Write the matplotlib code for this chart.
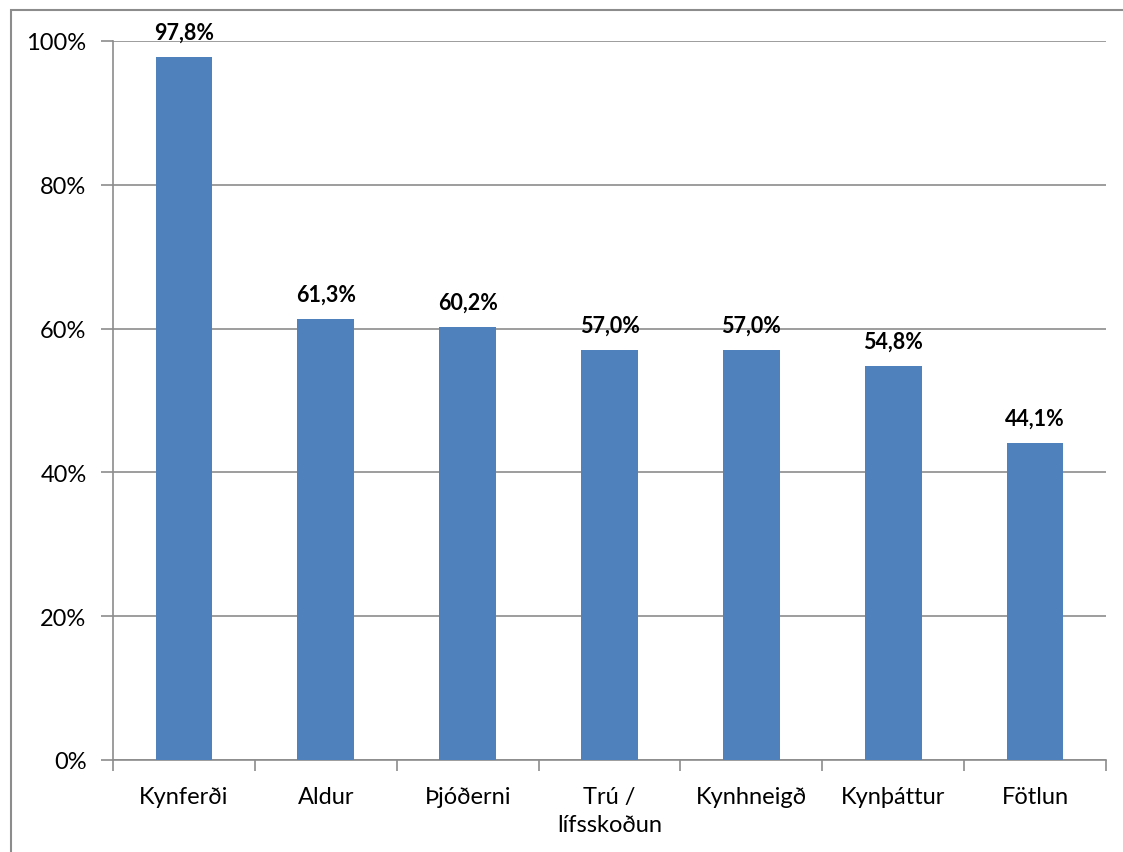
import matplotlib.pyplot as plt
from matplotlib.patches import Rectangle
import numpy as np

plt.rcParams['font.family'] = ['Lato', 'DejaVu Sans']

categories = ['Kynferði', 'Aldur', 'Þjóðerni', 'Trú /\nlífsskoðun', 'Kynhneigð', 'Kynþáttur', 'Fötlun']
values = [97.8, 61.3, 60.2, 57.0, 57.0, 54.8, 44.1]
labels = ['97,8%', '61,3%', '60,2%', '57,0%', '57,0%', '54,8%', '44,1%']
yticks = [0, 20, 40, 60, 80, 100]

fig = plt.figure(figsize=(11.23, 8.53), dpi=100)
ax = fig.add_axes([113/1123, 1 - 761/853, (1106-113)/1123, (761-42)/853])

x = np.arange(len(categories))
ax.bar(x, values, width=0.4, color='#4F81BD', zorder=3)
for xi, v, lab in zip(x, values, labels):
    ax.text(xi, v + 2.0, lab, ha='center', va='bottom', fontsize=15.5, fontweight='bold')

ax.set_xlim(-0.5, len(categories) - 0.5)
ax.set_ylim(0, 100)
ax.set_yticks(yticks)
ax.set_yticklabels([f'{t}%' for t in yticks], fontsize=17)
ax.yaxis.grid(True, color='#8c8c8c', linewidth=1.2, zorder=0)

ax.set_xticks(x)
ax.set_xticklabels(categories, fontsize=17, linespacing=1.4)
ax.set_xticks(np.arange(-0.5, len(categories)), minor=True)
ax.tick_params(axis='x', which='major', length=0, pad=19)
ax.tick_params(axis='x', which='minor', length=8, width=1.2, color='#8c8c8c')
ax.tick_params(axis='y', length=9, width=1.2, color='#8c8c8c', pad=10)

for s in ['top', 'right']:
    ax.spines[s].set_visible(False)
for s in ['left', 'bottom']:
    ax.spines[s].set_color('#8c8c8c')
    ax.spines[s].set_linewidth(1.2)

# outer chart border
fig.patches.append(Rectangle((11/1123, -0.1), 1.2, 1 - 11/853 + 0.1, transform=fig.transFigure,
                             fill=False, edgecolor='#8c8c8c', linewidth=1.5))

fig.savefig('out.png', dpi=100)
